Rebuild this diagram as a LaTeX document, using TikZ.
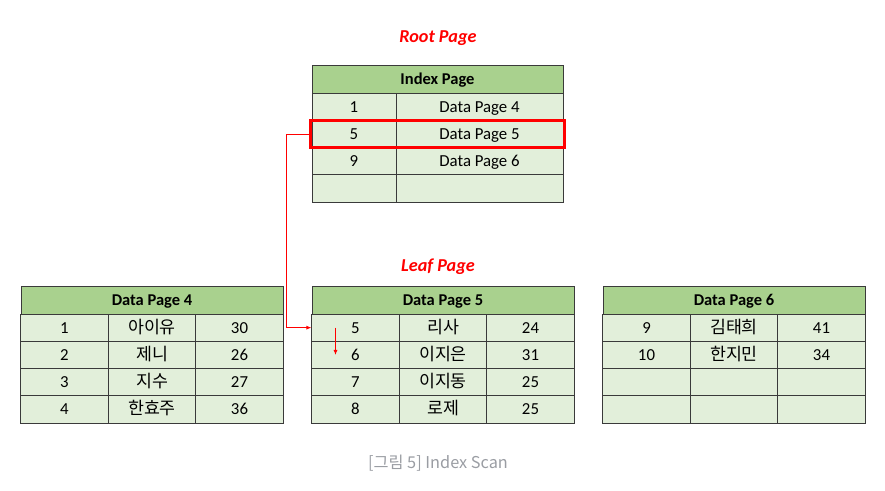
\documentclass[tikz,border=0pt]{standalone}
\usepackage{fontspec}
\setmainfont{Carlito}
\newfontfamily\kr{Noto Sans CJK KR}
\usetikzlibrary{arrows.meta}
\definecolor{hdrgreen}{HTML}{A9D18E}
\definecolor{rowgreen}{HTML}{E2EFDA}
\definecolor{gridline}{HTML}{3A3A3A}
\definecolor{capgray}{HTML}{9A9DA3}
\tikzset{
  cell/.style={draw=gridline, line width=0.9pt, fill=rowgreen, inner sep=0pt, minimum height=27.3pt,
    text height=10.8pt, text depth=0pt, font=\fontsize{16.8}{18}\selectfont},
  hdr/.style={cell, fill=hdrgreen, font=\fontsize{16.5}{18}\selectfont\bfseries},
  c87/.style={cell, minimum width=87.3pt},
  title/.style={text=red, font=\fontsize{18.2}{20}\selectfont\bfseries\itshape},
  hlbox/.style={draw=red, line width=2.6pt, minimum width=254pt, minimum height=27.5pt, inner sep=0pt},
  link/.style={draw=red, line width=0.8pt, -{Latex[length=5pt,width=4pt]}}
}
\newcommand{\kor}[1]{{\kr\fontsize{17.3}{18}\selectfont #1}}
\begin{document}
\begin{tikzpicture}[x=1pt,y=-1pt]
\useasboundingbox (0,0) rectangle (885,490);
% titles
\node[title] (root) at (438,38) {Root Page};
\node[title] (leaf) at (438,267) {Leaf Page};
% index page
\node[hdr, minimum width=251pt] (ih) at (437.5,79.5) {Index Page};
\foreach \kk/\v [count=\n] in {1/Data Page 4, 5/Data Page 5, 9/Data Page 6, /} {
  \pgfmathsetmacro{\yy}{93+27.3*(\n-0.5)}
  \node[cell, minimum width=84pt] (ik\n) at (354,\yy) {\kk};
  \node[cell, minimum width=167pt] (iv\n) at (479.5,\yy) {\v};
}
\node[hlbox] (hl) at (437.5,134) {};
% data page 4
\node[hdr, minimum width=262pt] (h4) at (152,300.5) {Data Page 4};
\foreach \a/\b/\c [count=\n] in {1/아이유/30, 2/제니/26, 3/지수/27, 4/한효주/36} {
  \pgfmathsetmacro{\yy}{314+27.3*(\n-0.5)}
  \node[c87] (p4a\n) at (64.5,\yy) {\a};
  \node[c87] (p4b\n) at (152,\yy) {\kor{\b}};
  \node[c87] (p4c\n) at (239.5,\yy) {\c};
}
% data page 5
\node[hdr, minimum width=262pt] (h5) at (443,300.5) {Data Page 5};
\foreach \a/\b/\c [count=\n] in {5/리사/24, 6/이지은/31, 7/이지동/25, 8/로제/25} {
  \pgfmathsetmacro{\yy}{314+27.3*(\n-0.5)}
  \node[c87] (p5a\n) at (355.5,\yy) {\a};
  \node[c87] (p5b\n) at (443,\yy) {\kor{\b}};
  \node[c87] (p5c\n) at (530.5,\yy) {\c};
}
% data page 6
\node[hdr, minimum width=262pt] (h6) at (734,300.5) {Data Page 6};
\foreach \a/\b/\c [count=\n] in {9/김태희/41, 10/한지민/34, //, //} {
  \pgfmathsetmacro{\yy}{314+27.3*(\n-0.5)}
  \node[c87] (p6a\n) at (646.5,\yy) {\a};
  \node[c87] (p6b\n) at (734,\yy) {\kor{\b}};
  \node[c87] (p6c\n) at (821.5,\yy) {\c};
}
% connectors
\coordinate (bend) at ([xshift=-23pt]hl.west);
\draw[link] (hl.west) -- (bend) |- (p5a1.west);
\draw[link] ([xshift=-20pt]p5a1.center) -- ([xshift=-20pt]p5a2.center);
% caption
\node[text=capgray, font=\kr\fontsize{16.3}{18}\selectfont] (cap) at (438,463) {[그림 5] Index Scan};
\end{tikzpicture}
\end{document}
